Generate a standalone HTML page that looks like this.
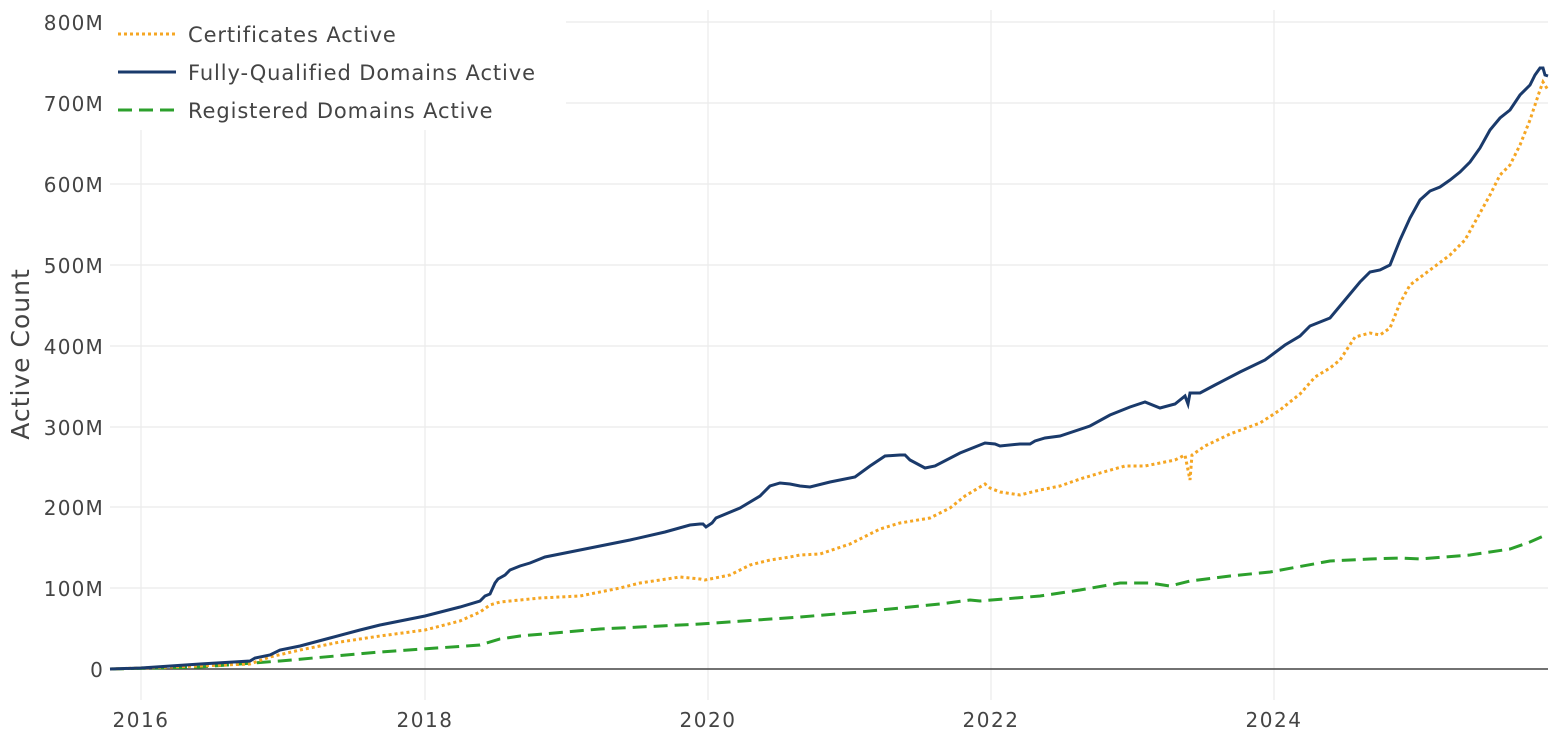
<!DOCTYPE html>
<html><head><meta charset="utf-8"><style>body{margin:0;background:#fff}svg{display:block}text{font-family:"DejaVu Sans","Liberation Sans",sans-serif;fill:#444}</style></head><body>
<svg width="1565" height="748" viewBox="0 0 1565 748">
<g stroke="#ebebeb" stroke-width="1.2">
<line x1="110" x2="1548" y1="588" y2="588"/><line x1="110" x2="1548" y1="507" y2="507"/><line x1="110" x2="1548" y1="427" y2="427"/><line x1="110" x2="1548" y1="346" y2="346"/><line x1="110" x2="1548" y1="265" y2="265"/><line x1="110" x2="1548" y1="184" y2="184"/><line x1="110" x2="1548" y1="103" y2="103"/><line x1="110" x2="1548" y1="22" y2="22"/>
<line x1="141" x2="141" y1="10" y2="700"/><line x1="425" x2="425" y1="10" y2="700"/><line x1="708" x2="708" y1="10" y2="700"/><line x1="991" x2="991" y1="10" y2="700"/><line x1="1274" x2="1274" y1="10" y2="700"/>
</g>
<line x1="110" x2="1548" y1="669" y2="669" stroke="#444" stroke-width="1.5"/>
<g font-size="20" text-anchor="end" letter-spacing="1.2">
<text x="104" y="677">0</text><text x="104" y="596">100M</text><text x="104" y="515">200M</text><text x="104" y="435">300M</text><text x="104" y="354">400M</text><text x="104" y="273">500M</text><text x="104" y="192">600M</text><text x="104" y="111">700M</text><text x="104" y="30">800M</text>
</g>
<g font-size="20" text-anchor="middle" letter-spacing="1.5">
<text x="141" y="727">2016</text><text x="425" y="727">2018</text><text x="708" y="727">2020</text><text x="991" y="727">2022</text><text x="1274" y="727">2024</text>
</g>
<text font-size="25" text-anchor="middle" letter-spacing="1" transform="translate(29,354) rotate(-90)">Active Count</text>
<polyline fill="none" stroke="#2ca02c" stroke-width="3" stroke-dasharray="14,7" points="110,669 200,667 280,661 380,652 480,645 500,639 520,636 600,629 700,624 800,617 860,612 940,604 970,600 980,601 1040,596 1080,590 1120,583 1150,583 1170,586 1190,581 1230,576 1270,572 1330,561 1370,559 1400,558 1420,559 1470,555 1510,549 1530,542 1548,534"/>
<polyline fill="none" stroke="#f5a623" stroke-width="3" stroke-dasharray="3,3" points="110,669 200,666 250,664 270,657 300,650 340,642 380,636 425,630 460,621 480,612 490,605 500,602 520,600 540,598 580,596 620,588 640,583 660,580 680,577 700,579 705,580 730,575 750,565 770,560 790,557 800,555 820,554 850,544 880,529 900,523 930,518 950,508 965,496 985,484 990,488 1000,492 1020,495 1040,490 1060,486 1080,479 1100,473 1125,466 1145,466 1160,463 1175,460 1185,455 1190,480 1192,455 1205,446 1230,434 1260,423 1280,410 1300,394 1315,377 1330,368 1340,360 1355,337 1370,333 1380,335 1390,328 1400,303 1410,285 1430,270 1450,255 1465,240 1475,222 1490,195 1500,175 1510,165 1520,145 1530,120 1540,90 1543,82 1548,90"/>
<polyline fill="none" stroke="#1a3a6b" stroke-width="3" points="110,669 141,668 200,664 250,661 255,658 270,655 280,650 300,646 330,638 360,630 380,625 425,616 460,607 480,601 485,596 490,594 495,583 498,579 505,575 510,570 520,566 530,563 545,557 570,552 600,546 630,540 665,532 690,525 700,524 703,524 706,527 712,523 716,518 740,508 760,496 770,486 780,483 790,484 800,486 810,487 830,482 855,477 870,466 885,456 900,455 905,455 910,460 925,468 935,466 960,453 985,443 995,444 1000,446 1020,444 1030,444 1035,441 1045,438 1060,436 1090,426 1110,415 1125,409 1130,407 1145,402 1160,408 1175,404 1185,396 1188,404 1190,393 1200,393 1215,385 1240,372 1265,360 1285,345 1300,336 1310,326 1330,318 1345,300 1360,282 1370,272 1380,270 1390,265 1400,240 1410,218 1420,200 1430,191 1440,187 1450,180 1460,172 1470,162 1480,148 1490,130 1500,118 1510,110 1520,95 1530,85 1535,75 1540,68 1543,68 1545,75 1548,76"/>
<rect x="110" y="8" width="456" height="122" fill="#fff"/>
<line x1="118" x2="176" y1="34" y2="34" stroke="#f5a623" stroke-width="3" stroke-dasharray="3,3"/>
<line x1="118" x2="176" y1="72" y2="72" stroke="#1a3a6b" stroke-width="3"/>
<line x1="118" x2="176" y1="110" y2="110" stroke="#2ca02c" stroke-width="3" stroke-dasharray="14,7"/>
<g font-size="21" letter-spacing="0.9"><text x="188" y="42">Certificates Active</text><text x="188" y="80">Fully-Qualified Domains Active</text><text x="188" y="118">Registered Domains Active</text></g>
</svg>
</body></html>
